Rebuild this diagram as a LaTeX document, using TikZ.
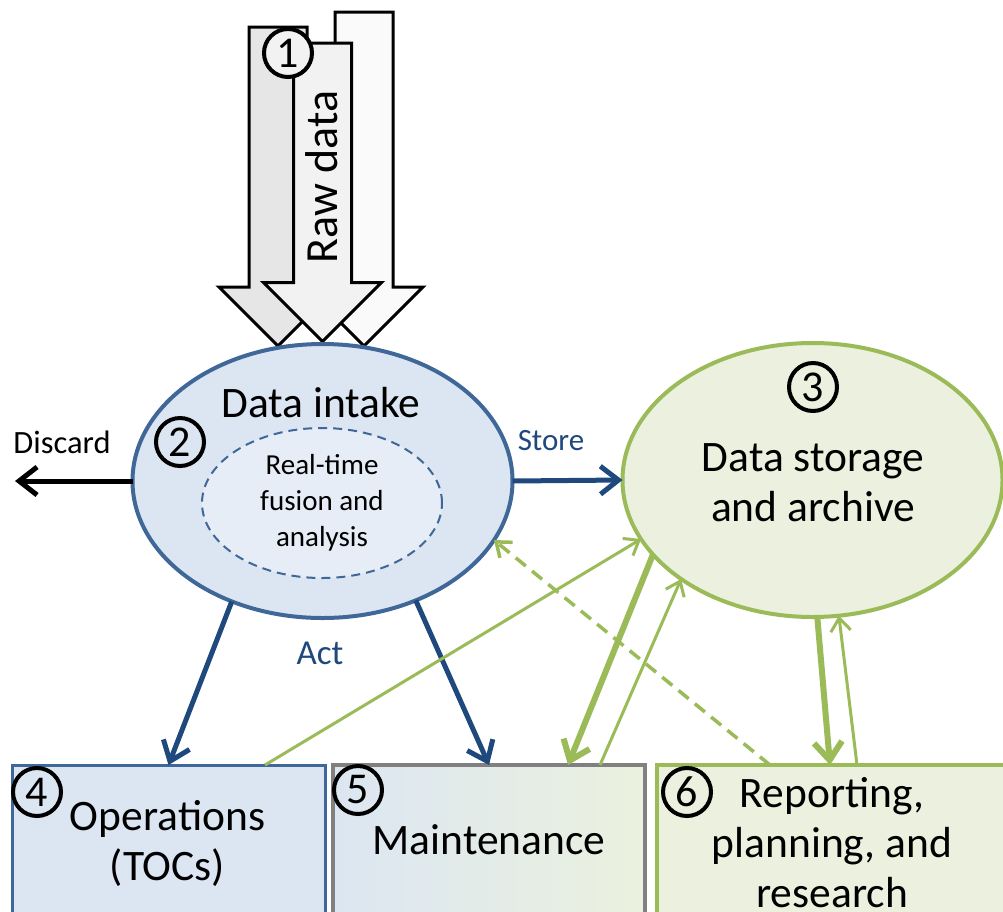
\documentclass[tikz,border=0pt]{standalone}
\usepackage{fontspec}
\setmainfont{Carlito}
\usetikzlibrary{arrows.meta,shapes.geometric,calc}
\definecolor{bfill}{HTML}{DCE6F2}
\definecolor{bin}{HTML}{E6EDF7}
\definecolor{bline}{HTML}{3F6797}
\definecolor{barrow}{HTML}{1F497D}
\definecolor{gline}{HTML}{9BBB59}
\definecolor{gfill}{HTML}{EBF1DE}
\definecolor{grayline}{HTML}{808080}
\definecolor{arrA}{HTML}{E6E6E6}
\definecolor{arrB}{HTML}{F2F2F2}
\definecolor{arrC}{HTML}{FAFAFA}
\newcommand{\rawArrow}[4]{%
  \draw[line width=3pt, fill=#4, line join=miter]
    (#1-29,#2) -- (#1+29,#2) -- (#1+29,#3) -- (#1+59,#3) -- (#1,#3+59)
    -- (#1-59,#3) -- (#1-29,#3) -- cycle;}
\begin{document}
\begin{tikzpicture}[x=1pt,y=-1pt,
  big/.style={font=\fontsize{43.5}{50}\selectfont, align=center, inner sep=0pt},
  mid/.style={font=\fontsize{29}{36}\selectfont, align=center, inner sep=0pt},
  small/.style={font=\fontsize{32.5}{36}\selectfont, inner sep=0pt},
  num/.style={circle, draw=black, line width=4pt, minimum size=48pt, inner sep=0pt,
              font=\fontsize{44}{44}\selectfont},
  oval/.style={ellipse, line width=4pt, minimum width=380pt, minimum height=274pt,
               inner sep=0pt, outer sep=0pt},
  boxnode/.style={rectangle, line width=4pt, minimum height=220pt, anchor=north west,
                  inner sep=0pt, outer sep=0pt},
  bluearrow/.style={draw=barrow, line width=5pt, -{Straight Barb[length=18pt,width=28pt]}},
  blackarrow/.style={draw=black, line width=5pt, -{Straight Barb[length=18pt,width=28pt]}},
  gthin/.style={draw=gline, line width=3pt, -{Straight Barb[length=13pt,width=20pt]}},
  gthick/.style={draw=gline, line width=6pt, -{Straight Barb[length=18pt,width=28pt]}},
  gdash/.style={draw=gline, line width=3.5pt, dash pattern=on 13pt off 8pt,
                -{Straight Barb[length=13pt,width=20pt]}}
]
\useasboundingbox (0,0) rectangle (1003,911);
\clip (0,0) rectangle (1003,911);
\fill[white] (0,0) rectangle (1003,911);

% raw data block arrows
\rawArrow{364}{12}{287}{arrC}
\rawArrow{278}{27}{287}{arrA}
\rawArrow{322.5}{43}{282.5}{arrB}
\node[num, fill=arrB] (n1) at (288,53) {1};
\node[rotate=90, font=\fontsize{46}{46}\selectfont, inner sep=0pt] (raw) at (322,177) {Raw data};

% boxes
\node[boxnode, draw=bline, line width=3pt, fill=bfill, minimum width=313pt] (ops) at (12,765) {};
\node[boxnode, draw=grayline, left color=bfill, right color=gfill, minimum width=312pt] (maint) at (333,765) {};
\node[boxnode, draw=gline, fill=gfill, minimum width=400pt] (report) at (657,765) {};
\node[big] (opslbl) at (167.5,843) {Operations\\(TOCs)};
\node[big] (maintlbl) at (489,840) {Maintenance};
\node[big] (replbl) at (832,843) {Reporting,\\planning, and\\research};
\node[num] (n4) at (37,792) {4};
\node[num] (n5) at (358,790) {5};
\node[num] (n6) at (687,792) {6};

% ellipses
\node[oval, draw=bline, fill=bfill] (intake) at (322.5,481) {};
\node[ellipse, draw=bline, line width=2pt, dash pattern=on 9pt off 6pt, fill=bin,
      minimum width=240pt, minimum height=150pt, inner sep=0pt] (fusion) at (322,503) {};
\node[mid] (fusionlbl) at (322,503) {Real-time\\fusion and\\analysis};
\node[big] (intakelbl) at (321,403) {Data intake};
\node[num] (n2) at (180,442) {2};

\node[oval, draw=gline, fill=gfill] (storage) at (812.5,480) {};
\node[big] (storelbl2) at (813,483) {Data storage\\and archive};
\node[num] (n3) at (813,387) {3};

% black / blue connectors
\coordinate (discardend) at (15,481);
\draw[blackarrow] (intake.west) -- (discardend);
\node[small] (discardlbl) at (62,442) {Discard};
\draw[bluearrow] (intake.east) -- (storage.west);
\node[font=\fontsize{31}{36}\selectfont, inner sep=0pt, text=barrow] (storelbl) at (551,441) {Store};
\draw[bluearrow] (intake.-127) -- (ops.north);
\draw[bluearrow] (intake.-52) -- (maint.north);
\node[font=\fontsize{35}{35}\selectfont, text=barrow, inner sep=0pt] (actlbl) at (320,653) {Act};

% green connectors
\draw[gthin] ([xshift=-60pt]ops.north east) -- (storage.199.5);
\draw[gthick] (storage.205.5) -- ([xshift=-77pt]maint.north east);
\draw[gthin] ([xshift=-45pt]maint.north east) -- (storage.217.6);
\draw[gdash] ([xshift=113pt]report.north west) -- (intake.-19);
\draw[gthick] (storage.-88) -- ([xshift=173pt]report.north west);
\draw[gthin] ([xshift=200pt]report.north west) -- (storage.-79);
\end{tikzpicture}
\end{document}
